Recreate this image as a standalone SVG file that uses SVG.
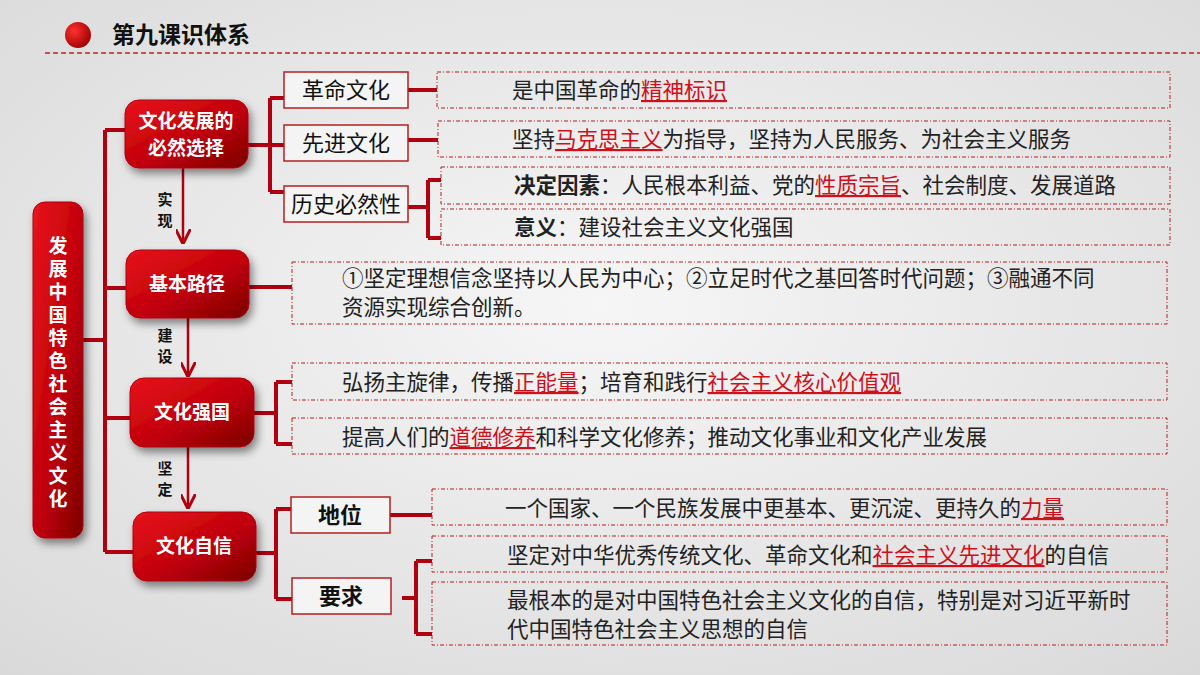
<svg xmlns="http://www.w3.org/2000/svg" width="1200" height="675" viewBox="0 0 1200 675">
<defs>
<radialGradient id="bg" cx="50%" cy="45%" r="75%"><stop offset="0" stop-color="#f6f6f6"/><stop offset="1" stop-color="#d9d9d9"/></radialGradient>
<linearGradient id="rg" x1="0" y1="0" x2="1" y2="1"><stop offset="0" stop-color="#e8141c"/><stop offset="0.55" stop-color="#c00008"/><stop offset="1" stop-color="#7a0004"/></linearGradient>
<radialGradient id="dot" cx="35%" cy="35%" r="70%"><stop offset="0" stop-color="#ff3030"/><stop offset="1" stop-color="#a00000"/></radialGradient>
<filter id="sh" x="-20%" y="-20%" width="150%" height="160%"><feDropShadow dx="3" dy="5" stdDeviation="4" flood-color="#000" flood-opacity="0.45"/></filter>
<marker id="ar" viewBox="0 0 10 10" refX="8" refY="5" markerWidth="6" markerHeight="6" orient="auto"><path d="M0,0 L10,5 L0,10" fill="none" stroke="#b00010" stroke-width="2"/></marker>
<style>
.main rect{fill:url(#rg);stroke:#b00010;stroke-width:1;filter:url(#sh)}
.mt{font-family:"Noto Sans CJK SC",sans-serif;font-weight:bold;fill:#fff;font-size:19px;text-anchor:middle}
.vt{font-family:"Noto Sans CJK SC",sans-serif;font-weight:bold;fill:#fff;font-size:19px}
.sub rect{fill:#f4f4f4;stroke:#b52020;stroke-width:1.5}
.st{font-family:"Noto Sans CJK SC",sans-serif;font-size:22px;fill:#111;text-anchor:middle}
.cb{fill:none;stroke:#b52020;stroke-width:1;stroke-dasharray:4 2 1 2}
.ct{font-family:"Noto Sans CJK SC",sans-serif;font-size:21.5px;fill:#222}
.r{fill:#d0101a;text-decoration:underline}
.b{font-weight:bold}
.ln{fill:none;stroke:#b00010;stroke-width:4}
.lab{font-family:"Noto Sans CJK SC",sans-serif;font-weight:bold;font-size:15px;fill:#111;text-anchor:middle}
</style>
</defs>
<rect width="1200" height="675" fill="url(#bg)"/>
<g id="title">
<circle cx="78" cy="35" r="13" fill="url(#dot)"/>
<text x="112" y="43" font-family="Noto Sans CJK SC,sans-serif" font-weight="bold" font-size="23" fill="#111">第九课识体系</text>
<line x1="45" y1="53" x2="1200" y2="53" stroke="#c02020" stroke-width="1.5" stroke-dasharray="5 3"/>
</g>
<g id="connectors">
<path class="ln" d="M82,340 H105 M105,130 V552 M105,130 H127 M105,288 H128 M105,418 H132 M105,552 H135"/>
<path class="ln" d="M248,145 H270 M270,98 V192 M270,98 H284 M270,145 H284 M270,192 H284"/>
<path class="ln" d="M408,90 H437 M408,140 H438 M408,207 H428 M428,180 V238 M428,180 H441 M428,238 H441"/>
<path class="ln" d="M249,287 H292"/>
<path class="ln" d="M254,413 H276 M276,382 V444 M276,382 H292 M276,444 H292"/>
<path class="ln" d="M256,553 H276 M276,509 V599 M276,509 H291 M276,599 H292"/>
<path class="ln" d="M390,515 H432 M402,598 H416 M416,561 V634 M416,561 H432 M416,634 H432"/>
<path d="M183,168 V241" stroke="#b00010" stroke-width="2.5" fill="none" marker-end="url(#ar)"/>
<path d="M188,318 V374" stroke="#b00010" stroke-width="2.5" fill="none" marker-end="url(#ar)"/>
<path d="M188,447 V506" stroke="#b00010" stroke-width="2.5" fill="none" marker-end="url(#ar)"/>
<text class="lab" x="165" y="205">实</text><text class="lab" x="165" y="226">现</text>
<text class="lab" x="165" y="341">建</text><text class="lab" x="165" y="362">设</text>
<text class="lab" x="165" y="474">坚</text><text class="lab" x="165" y="495">定</text>
</g>
<g id="root" class="main"><rect x="33" y="202" width="50" height="336" rx="12"/>
<text class="vt" x="58" y="236" style="writing-mode:tb;glyph-orientation-vertical:0" letter-spacing="4">发展中国特色社会主义文化</text></g>
<g id="n1" class="main"><rect x="125" y="100" width="123" height="68" rx="14"/><text class="mt" x="186" y="128" font-size="18">文化发展的</text><text class="mt" x="186" y="155" font-size="18">必然选择</text></g>
<g id="n2" class="main"><rect x="126" y="250" width="123" height="68" rx="14"/><text class="mt" x="187" y="291">基本路径</text></g>
<g id="n3" class="main"><rect x="130" y="378" width="124" height="69" rx="14"/><text class="mt" x="192" y="419">文化强国</text></g>
<g id="n4" class="main"><rect x="133" y="512" width="123" height="69" rx="14"/><text class="mt" x="194" y="553">文化自信</text></g>
<g id="s1" class="sub"><rect x="284" y="72" width="124" height="36"/><text class="st" x="346" y="98">革命文化</text></g>
<g id="s2" class="sub"><rect x="284" y="125" width="124" height="36"/><text class="st" x="346" y="151">先进文化</text></g>
<g id="s3" class="sub"><rect x="284" y="186" width="124" height="36"/><text class="st" x="346" y="212">历史必然性</text></g>
<g id="s4" class="sub"><rect x="291" y="497" width="99" height="36"/><text class="st" x="340" y="523" font-weight="bold">地位</text></g>
<g id="s5" class="sub"><rect x="292" y="578" width="99" height="36"/><text class="st" x="341" y="604" font-weight="bold">要求</text></g>
<g id="c1"><rect class="cb" x="437" y="72" width="733" height="36"/><text class="ct" x="512" y="98">是中国革命的<tspan class="r">精神标识</tspan></text></g>
<g id="c2"><rect class="cb" x="438" y="121" width="732" height="36"/><text class="ct" x="512" y="147">坚持<tspan class="r">马克思主义</tspan>为指导，坚持为人民服务、为社会主义服务</text></g>
<g id="c3"><rect class="cb" x="441" y="167" width="729" height="37"/><text class="ct" x="514" y="193"><tspan class="b">决定因素</tspan>：人民根本利益、党的<tspan class="r">性质宗旨</tspan>、社会制度、发展道路</text></g>
<g id="c4"><rect class="cb" x="441" y="209" width="729" height="36"/><text class="ct" x="514" y="235"><tspan class="b">意义</tspan>：建设社会主义文化强国</text></g>
<g id="c5"><rect class="cb" x="292" y="262" width="875" height="62"/><text class="ct" x="342" y="286">①坚定理想信念坚持以人民为中心；②立足时代之基回答时代问题；③融通不同</text><text class="ct" x="342" y="315">资源实现综合创新。</text></g>
<g id="c6"><rect class="cb" x="292" y="363" width="875" height="37"/><text class="ct" x="342" y="390">弘扬主旋律，传播<tspan class="r">正能量</tspan>；培育和践行<tspan class="r">社会主义核心价值观</tspan></text></g>
<g id="c7"><rect class="cb" x="292" y="418" width="875" height="36"/><text class="ct" x="342" y="445">提高人们的<tspan class="r">道德修养</tspan>和科学文化修养；推动文化事业和文化产业发展</text></g>
<g id="c8"><rect class="cb" x="432" y="489" width="735" height="36"/><text class="ct" x="505" y="516">一个国家、一个民族发展中更基本、更沉淀、更持久的<tspan class="r">力量</tspan></text></g>
<g id="c9"><rect class="cb" x="432" y="536" width="735" height="36"/><text class="ct" x="507" y="563">坚定对中华优秀传统文化、革命文化和<tspan class="r">社会主义先进文化</tspan>的自信</text></g>
<g id="c10"><rect class="cb" x="432" y="582" width="735" height="63"/><text class="ct" x="507" y="608">最根本的是对中国特色社会主义文化的自信，特别是对习近平新时</text><text class="ct" x="507" y="637">代中国特色社会主义思想的自信</text></g>
</svg>
